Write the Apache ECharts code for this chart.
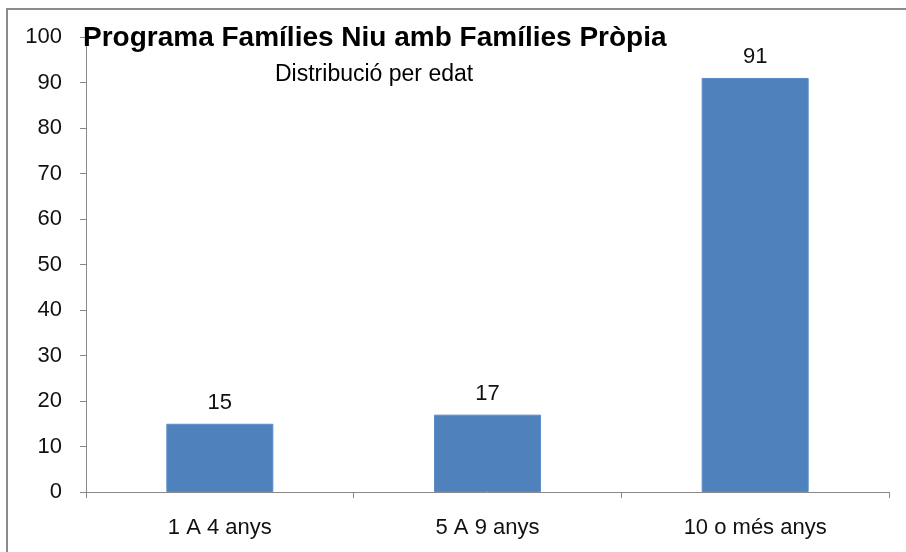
<!DOCTYPE html>
<html>
<head>
<meta charset="utf-8">
<script src="https://cdn.jsdelivr.net/npm/echarts@6/dist/echarts.min.js"></script>
<style>
  html, body { margin: 0; padding: 0; background: #fff; }
  #frame { position: absolute; left: 6px; top: 8px; width: 920px; height: 560px; border: 2px solid #8c8c8c; box-sizing: border-box; }
  #main { position: absolute; left: 0; top: 0; width: 906px; height: 552px; }
</style>
</head>
<body>
<div id="frame"></div>
<div id="main"></div>
<script>
// dades del gràfic
var categories = ["1 A 4 anys", "5 A 9 anys", "10 o més anys"];
var values = [15, 17, 91];
var yTicks = [0, 100, 10]; // min, max, interval

var chart = echarts.init(document.getElementById("main"));
var font = "'Liberation Sans', 'DejaVu Sans', sans-serif";

chart.setOption({
  backgroundColor: "transparent",
  title: [
    {
      text: "Programa Famílies Niu amb Famílies Pròpia",
      left: 78,
      top: 19,
      textStyle: { fontFamily: font, fontWeight: "bold", fontSize: 28, color: "#000" }
    },
    {
      text: "Distribució per edat",
      left: 270,
      top: 58,
      textStyle: { fontFamily: font, fontWeight: "normal", fontSize: 23, color: "#000" }
    }
  ],
  grid: { left: 86, right: 17, top: 37, bottom: 60 },
  xAxis: {
    type: "category",
    data: categories,
    axisLine: { lineStyle: { color: "#888", width: 1 } },
    axisTick: { show: true, inside: false, length: 6, alignWithLabel: false, lineStyle: { color: "#888" } },
    axisLabel: { fontFamily: font, fontSize: 22, color: "#111", margin: 25 },
    splitLine: { show: false }
  },
  yAxis: {
    type: "value",
    min: yTicks[0],
    max: yTicks[1],
    interval: yTicks[2],
    axisLine: { show: true, lineStyle: { color: "#888", width: 1 } },
    axisTick: { show: true, length: 6, lineStyle: { color: "#888" } },
    axisLabel: { fontFamily: font, fontSize: 22, color: "#111", margin: 24 },
    splitLine: { show: false }
  },
  series: [
    {
      type: "bar",
      data: values,
      barWidth: 107,
      itemStyle: { color: "#4F81BD", borderColor: "#5b8cc6", borderWidth: 1 },
      label: {
        show: true,
        position: "top",
        distance: 10,
        fontFamily: font,
        fontSize: 22,
        color: "#111"
      },
      animation: false
    }
  ],
  animation: false
});
</script>
</body>
</html>
